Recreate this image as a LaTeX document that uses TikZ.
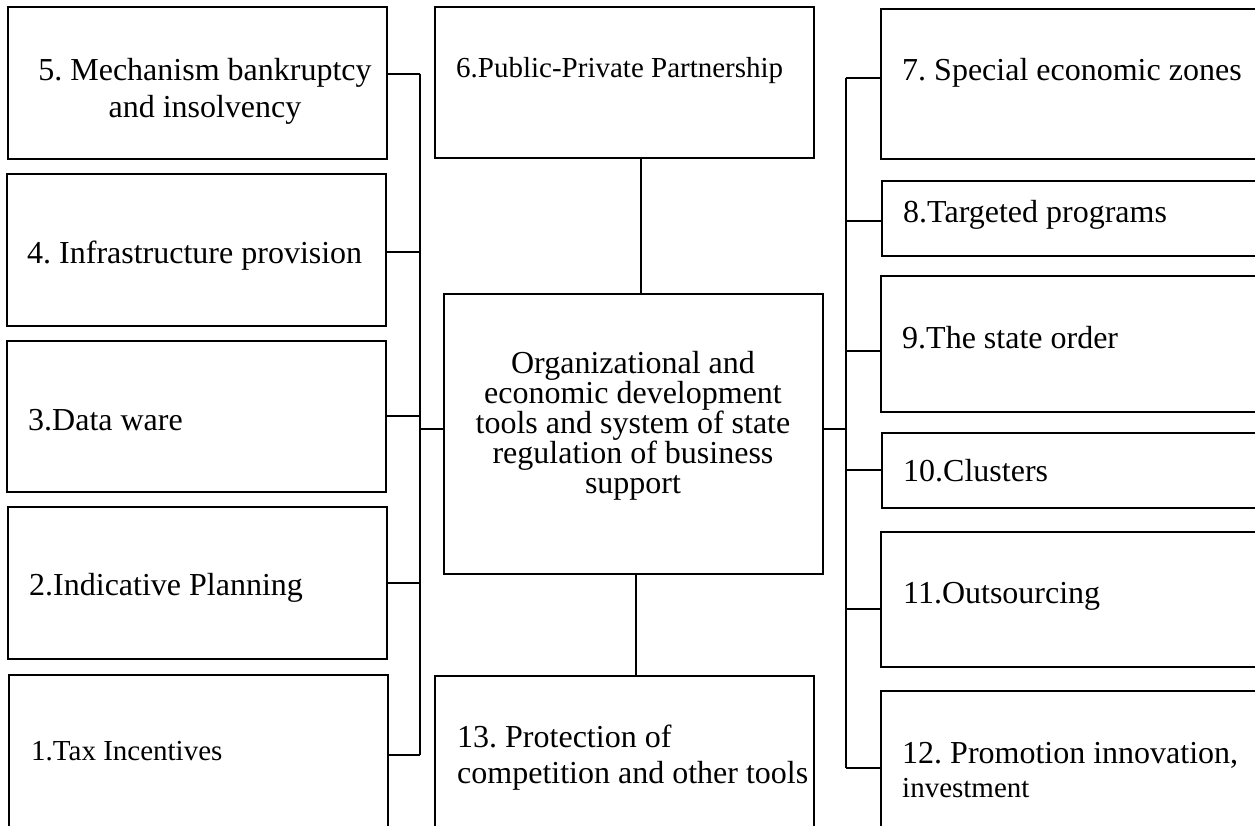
\documentclass[tikz,border=0pt]{standalone}
\usepackage{fontspec}
\setmainfont{Liberation Serif}
\frenchspacing
\begin{document}
\begin{tikzpicture}[x=1pt,y=-1pt,
  box/.style={draw,line width=1.3pt,inner sep=0pt,outer sep=0pt,anchor=north west},
  link/.style={line width=1.1pt},
  txt/.style={inner sep=0pt,anchor=base west,font=\fontsize{32}{36}\selectfont},
  small/.style={font=\fontsize{29}{33}\selectfont}]
\useasboundingbox (0,0) rectangle (1255,825);
\clip (0,0) rectangle (1255,825);
% left column
\node[box,minimum width=379,minimum height=152] (b5) at (8,7) {};
\node[box,minimum width=379,minimum height=152] (b4) at (7,174) {};
\node[box,minimum width=379,minimum height=151] (b3) at (7,341) {};
\node[box,minimum width=379,minimum height=152] (b2) at (8,507) {};
\node[box,minimum width=379,minimum height=180] (b1) at (9,675) {};
% middle column
\node[box,minimum width=379,minimum height=151] (b6) at (435,7) {};
\node[box,minimum width=379,minimum height=280] (hub) at (444,294) {};
\node[box,minimum width=379,minimum height=180] (b13) at (435,676) {};
% right column
\node[box,minimum width=400,minimum height=150] (b7) at (881,9) {};
\node[box,minimum width=400,minimum height=75] (b8) at (882,181) {};
\node[box,minimum width=400,minimum height=136] (b9) at (881,276) {};
\node[box,minimum width=400,minimum height=75] (b10) at (882,433) {};
\node[box,minimum width=400,minimum height=135] (b11) at (881,532) {};
\node[box,minimum width=400,minimum height=180] (b12) at (881,691) {};
% texts (multi-line ones sit on their last line)
\node[txt,anchor=base,align=center,font=\fontsize{32}{37}\selectfont] (t5) at (205,117) {5. Mechanism bankruptcy\\and insolvency};
\node[txt] (t4) at (27,263) {4. Infrastructure provision};
\node[txt] (t3) at (28,430) {3.Data ware};
\node[txt] (t2) at (29,595) {2.Indicative Planning};
\node[txt,small] (t1) at (31,760) {1.Tax Incentives};
\node[txt,small] (t6) at (456,77) {6.Public-Private Partnership};
\node[txt,anchor=base,align=center,font=\fontsize{32}{30}\selectfont] (thub) at (633,493)
  {Organizational and\\economic development\\tools and system of state\\regulation of business\\support};
\node[txt,align=left] (t13) at (457,783) {13. Protection of\\competition and other tools};
\node[txt] (t7) at (902,80) {7. Special economic zones};
\node[txt] (t8) at (903,222) {8.Targeted programs};
\node[txt] (t9) at (902,348) {9.The state order};
\node[txt] (t10) at (903,481) {10.Clusters};
\node[txt] (t11) at (903,603) {11.Outsourcing};
\node[txt,align=left] (t12) at (902,797) {12. Promotion innovation,\\[-2pt]{\fontsize{29}{33}\selectfont investment}};
% buses
\coordinate (lt) at (420,74);
\coordinate (lb) at (420,755);
\coordinate (lm) at (420,429);
\coordinate (rt) at (846,78);
\coordinate (rb) at (846,768);
\coordinate (rm) at (846,429);
\coordinate (up) at (641,0);
\coordinate (dn) at (636,0);
\draw[link] (lt) -- (lb);
\draw[link] (rt) -- (rb);
\foreach \n/\y in {5/74,4/252,3/416,2/583,1/755}{
  \coordinate (l\n) at (420,\y);
  \draw[link] (b\n.east |- l\n) -- (l\n);
}
\foreach \n/\y in {7/78,8/221,9/351,10/470,11/609,12/768}{
  \coordinate (r\n) at (846,\y);
  \draw[link] (r\n) -- (b\n.west |- r\n);
}
\draw[link] (hub.west |- lm) -- (lm);
\draw[link] (hub.east |- rm) -- (rm);
\draw[link] (b6.south -| up) -- (hub.north -| up);
\draw[link] (hub.south -| dn) -- (b13.north -| dn);
\end{tikzpicture}
\end{document}
